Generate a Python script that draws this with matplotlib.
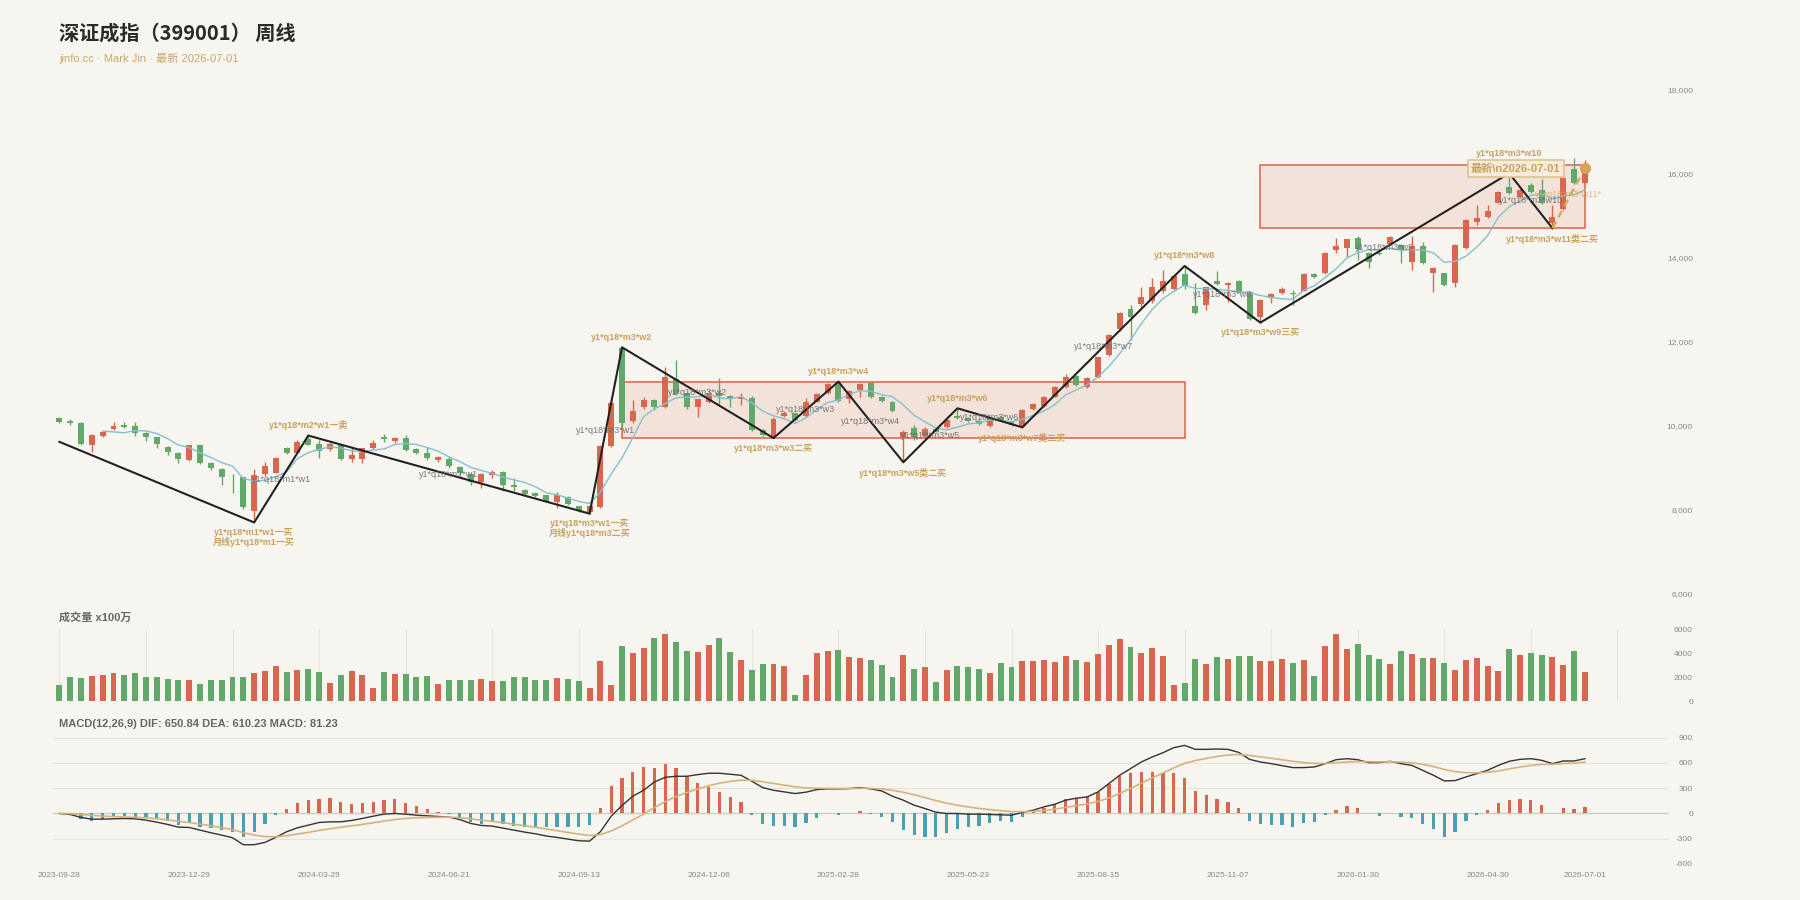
import matplotlib
matplotlib.use('Agg')
import matplotlib.pyplot as plt
from matplotlib.patches import Rectangle
import numpy as np

plt.rcParams['font.family'] = ['Liberation Sans', 'Noto Sans CJK SC']

# 周线 K 线数据 (2023-09-28 ~ 2026-07-01)
opens = [10170, 10115, 10067, 9535, 9750, 9909, 10020, 9988, 9829, 9718,
         9496, 9353, 9178, 9528, 9099, 8964, 8780, 8765, 7972, 8850,
         8880, 9456, 9353, 9670, 9551, 9432, 9528, 9194, 9194, 9456,
         9734, 9639, 9710, 9448, 9353, 9178, 9194, 9004, 8845, 8662,
         8821, 8900, 8583, 8464, 8400, 8337, 8186, 8305, 8083, 7950,
         8051, 9520, 11837, 10115, 10433, 10607, 10448, 11100, 10766, 10449,
         10567, 10766, 10703, 10623, 10647, 9893, 9750, 10227, 10290, 10227,
         10568, 10782, 11020, 10639, 10845, 11020, 10687, 10567, 9735, 9933,
         9750, 9909, 9957, 10226, 10171, 10115, 9988, 10195, 10092, 9960,
         10385, 10464, 10687, 10925, 11178, 10925, 11147, 11679, 12290, 12766,
         12900, 12970, 13200, 13240, 13600, 12845, 12869, 13449, 13346, 13449,
         13187, 12592, 13028, 13163, 13147, 13210, 13607, 13623, 14179, 14218,
         14457, 14115, 14115, 14322, 14298, 13901, 14274, 13623, 13623, 13385,
         14219, 14854, 14957, 15306, 15687, 15449, 15726, 15608, 14830, 15147,
         16100, 15766]
highs = [10190, 10150, 10085, 9790, 9880, 10083, 10090, 10090, 9845, 9730,
         9520, 9370, 9545, 9540, 9120, 8980, 8845, 8780, 8956, 9140,
         9240, 9480, 9650, 9781, 9650, 9600, 9540, 9456, 9470, 9655,
         9800, 9730, 9773, 9460, 9480, 9270, 9270, 9030, 8860, 8860,
         8940, 8920, 8760, 8480, 8410, 8350, 8420, 8320, 8090, 8100,
         9540, 10600, 11861, 10607, 10680, 10640, 11400, 11560, 10790, 10640,
         10845, 11123, 10720, 10780, 10700, 9910, 10200, 10340, 10300, 10650,
         10780, 11020, 11044, 10850, 11000, 11040, 10700, 10580, 9900, 10000,
         9960, 9930, 10160, 10409, 10190, 10130, 10200, 10220, 10110, 10400,
         10540, 10700, 10930, 11230, 11200, 11150, 11640, 12180, 12700, 12870,
         13306, 13504, 13700, 13600, 13798, 13385, 13300, 13687, 13420, 13470,
         13200, 13000, 13160, 13300, 13230, 13620, 13640, 14130, 14457, 14450,
         14510, 14130, 14200, 14510, 14320, 14512, 14380, 13780, 13640, 14320,
         14910, 15250, 15250, 15590, 16004, 15700, 15780, 15880, 15250, 15900,
         16361, 16322]
lows = [10060, 10020, 9545, 9377, 9720, 9890, 9940, 9750, 9640, 9456,
        9300, 9100, 9160, 9080, 8950, 8583, 8400, 8000, 7690, 8800,
        8860, 9330, 9340, 9530, 9218, 9400, 9180, 9130, 9115, 9440,
        9615, 9575, 9400, 9320, 9180, 9130, 8980, 8830, 8580, 8504,
        8740, 8448, 8450, 8340, 8300, 8170, 8030, 8110, 7950, 7900,
        8040, 9480, 9990, 10052, 10400, 10380, 10420, 10720, 10400, 10210,
        10540, 10488, 10449, 10490, 9880, 9740, 9695, 10200, 10110, 10200,
        10550, 10760, 10570, 10540, 10680, 10650, 10570, 10330, 9123, 9650,
        9730, 9840, 9940, 10150, 10090, 10010, 9970, 10110, 9990, 9940,
        10370, 10450, 10670, 10900, 10940, 10900, 11130, 11650, 12260, 12036,
        12830, 12909, 13150, 13200, 13260, 12650, 12750, 13350, 12948, 13170,
        12510, 12449, 12909, 13140, 12869, 13190, 13500, 13600, 14100, 14020,
        13930, 13740, 14060, 14300, 13870, 13703, 13840, 13187, 13330, 13300,
        14200, 14780, 14940, 15290, 15500, 15420, 15540, 15280, 14695, 15120,
        15740, 15740]
closes = [10090, 10060, 9560, 9774, 9853, 9988, 9956, 9829, 9718, 9551,
          9377, 9194, 9528, 9099, 8980, 8781, 8765, 8051, 8821, 9040,
          9218, 9353, 9615, 9543, 9400, 9551, 9194, 9290, 9456, 9591,
          9670, 9710, 9417, 9353, 9218, 9242, 9036, 8861, 8662, 8845,
          8900, 8583, 8527, 8369, 8321, 8186, 8345, 8130, 7972, 8083,
          9512, 10528, 10052, 10353, 10607, 10433, 11163, 10742, 10433, 10623,
          10766, 10703, 10647, 10687, 9893, 9774, 10147, 10290, 10131, 10568,
          10742, 10988, 10592, 10830, 10980, 10671, 10592, 10353, 9853, 9735,
          9909, 9853, 10131, 10171, 10115, 10036, 10171, 10131, 10012, 10369,
          10512, 10687, 10909, 11163, 10964, 11123, 11623, 12155, 12687, 12592,
          13067, 13300, 13450, 13560, 13330, 12670, 13290, 13369, 13401, 13187,
          12528, 12988, 13131, 13242, 13123, 13607, 13528, 14115, 14274, 14433,
          14195, 13901, 14084, 14480, 14179, 14274, 13861, 13758, 13345, 14298,
          14893, 14933, 15115, 15568, 15528, 15608, 15568, 15306, 14957, 15885,
          15766, 16123]
ma5 = [None, None, None, None,
       9867, 9847, 9826, 9880, 9869, 9808, 9686, 9534, 9474, 9350,
       9236, 9116, 9031, 8735, 8680, 8692, 8779, 8897, 9209, 9354,
       9426, 9492, 9461, 9396, 9378, 9416, 9440, 9543, 9569, 9548,
       9474, 9388, 9253, 9142, 9004, 8929, 8861, 8770, 8703, 8645,
       8540, 8397, 8350, 8270, 8191, 8143, 8408, 8845, 9229, 9706,
       10210, 10395, 10522, 10660, 10676, 10679, 10745, 10653, 10634, 10685,
       10539, 10341, 10230, 10158, 10047, 10182, 10376, 10544, 10604, 10744,
       10826, 10812, 10733, 10685, 10490, 10241, 10088, 9941, 9896, 9960,
       10036, 10061, 10125, 10125, 10093, 10144, 10239, 10342, 10498, 10728,
       10847, 10969, 11156, 11406, 11710, 12036, 12425, 12760, 13019, 13194,
       13341, 13262, 13260, 13244, 13212, 13183, 13155, 13095, 13047, 13015,
       13002, 13218, 13326, 13523, 13729, 13991, 14109, 14184, 14177, 14219,
       14168, 14184, 14176, 14110, 13883, 13907, 14031, 14245, 14517, 14961,
       15207, 15350, 15477, 15516, 15393, 15465, 15496, 15607]

# 成交量 (x100万)
volumes = [1339, 1981, 1953, 2120, 2148, 2372, 2176, 2372, 1981, 2037,
           1869, 1730, 1730, 1423, 1786, 1786, 2037, 2037, 2344, 2511,
           2957, 2455, 2567, 2706, 2399, 1535, 2148, 2511, 2176, 1088,
           2399, 2232, 2288, 1981, 2120, 1451, 1786, 1786, 1730, 1869,
           1646, 1646, 1981, 1981, 1730, 1786, 1897, 1869, 1674, 1116,
           3320, 1311, 4604, 3990, 4408, 5217, 5608, 4883, 4185, 4046,
           4687, 5245, 4046, 3404, 2623, 3069, 3069, 2957, 530, 2176,
           3990, 4157, 4241, 3683, 3571, 3432, 3013, 2037, 3850, 2706,
           2874, 1618, 2567, 2957, 2818, 2706, 2316, 3209, 2846, 3320,
           3348, 3376, 3236, 3711, 3432, 3292, 3878, 4631, 5134, 4464,
           3990, 4408, 3711, 1311, 1535, 3460, 3069, 3627, 3488, 3711,
           3711, 3320, 3320, 3460, 3209, 3376, 2120, 4604, 5552, 4297,
           4715, 3850, 3460, 3069, 4129, 3878, 3571, 3571, 3181, 2595,
           3376, 3571, 2902, 2483, 4297, 3822, 4018, 3794, 3655, 3013,
           4129, 2399]

# MACD(12,26,9)
dif = [0, -12, -47, -67, -67, -63, -59, -63, -79, -103,
       -130, -162, -166, -197, -229, -257, -288, -371, -371, -343,
       -284, -217, -170, -138, -107, -99, -99, -83, -59, -32,
       -8, 0, -8, -20, -28, -36, -43, -71, -118, -142,
       -150, -174, -197, -221, -241, -268, -284, -304, -324, -328,
       -217, -32, 95, 205, 276, 375, 430, 442, 442, 462,
       478, 478, 466, 454, 383, 308, 276, 257, 237, 253,
       284, 292, 292, 296, 308, 292, 268, 205, 158, 99,
       59, 16, 0, 0, -8, -8, -12, -16, -20, 12,
       39, 79, 110, 158, 182, 197, 257, 355, 454, 533,
       612, 671, 722, 782, 809, 762, 762, 766, 762, 726,
       643, 612, 592, 568, 545, 545, 553, 592, 639, 651,
       639, 604, 604, 620, 592, 572, 513, 454, 387, 391,
       434, 474, 513, 572, 620, 643, 651, 632, 592, 624,
       624, 651]
dea = [0, -2, -11, -22, -31, -37, -41, -46, -52, -62,
       -76, -93, -108, -126, -146, -168, -192, -228, -257, -274,
       -276, -264, -245, -224, -201, -181, -164, -148, -130, -110,
       -90, -72, -59, -51, -46, -44, -43, -49, -63, -79,
       -93, -109, -127, -145, -164, -185, -205, -225, -245, -261,
       -252, -208, -147, -76, -6, 70, 142, 202, 250, 292,
       330, 360, 381, 396, 394, 377, 357, 337, 317, 304,
       300, 298, 297, 297, 299, 298, 292, 275, 252, 222,
       189, 154, 123, 98, 77, 60, 46, 34, 23, 21,
       25, 36, 51, 72, 94, 114, 143, 185, 239, 298,
       360, 422, 482, 542, 596, 629, 655, 677, 694, 700,
       689, 673, 657, 639, 620, 605, 595, 594, 603, 612,
       618, 615, 613, 614, 610, 602, 584, 558, 524, 497,
       485, 483, 489, 506, 529, 552, 571, 583, 585, 593,
       599, 610]
macd_hist = [0, -5, -67, -87, -71, -40, -32, -40, -47, -71,
             -91, -142, -118, -158, -170, -197, -217, -284, -217, -130,
             -12, 51, 126, 166, 170, 182, 142, 118, 126, 142,
             166, 170, 126, 87, 51, 20, -8, -47, -103, -126,
             -107, -130, -150, -166, -178, -158, -158, -158, -158, -134,
             71, 328, 422, 497, 553, 537, 592, 537, 438, 363,
             316, 260, 193, 138, -12, -126, -146, -146, -158, -111,
             -59, 0, -16, 0, 24, -8, -40, -99, -197, -257,
             -276, -276, -229, -189, -166, -150, -118, -91, -99, -40,
             16, 67, 118, 178, 189, 205, 257, 347, 442, 482,
             493, 493, 482, 482, 422, 268, 217, 178, 134, 67,
             -87, -126, -138, -138, -158, -111, -99, -20, 39, 87,
             67, 0, -24, 0, -40, -59, -130, -189, -284, -217,
             -91, -20, 47, 130, 166, 178, 166, 99, 5, 67,
             51, 81]

# x 轴日期标签
date_pos = [0, 12, 24, 36, 48, 60, 72, 84, 96, 108, 120, 132, 141]
date_labels = ['2023-09-28', '2023-12-29', '2024-03-29', '2024-06-21', '2024-09-13',
               '2024-12-06', '2025-02-28', '2025-05-23', '2025-08-15', '2025-11-07',
               '2026-01-30', '2026-04-30', '2026-07-01']

# 笔的端点
bi_idx = [0, 18, 23, 49, 52, 66, 72, 78, 83, 89, 104, 111, 134, 138]
bi_val = [9610, 7690, 9760, 7900, 11861, 9700, 11044, 9123, 10409, 9956, 13798, 12449, 16004, 14695]
# 端点上的买卖点标注 (None 表示无)
bi_point_labels = [None,
                   'y1*q18*m1*w1一买\n月线y1*q18*m1一买',
                   'y1*q18*m2*w1一卖',
                   'y1*q18*m3*w1一买\n月线y1*q18*m3二买',
                   'y1*q18*m3*w2',
                   'y1*q18*m3*w3二买',
                   'y1*q18*m3*w4',
                   'y1*q18*m3*w5类二买',
                   'y1*q18*m3*w6',
                   'y1*q18*m3*w7类二买',
                   'y1*q18*m3*w8',
                   'y1*q18*m3*w9三买',
                   'y1*q18*m3*w10',
                   'y1*q18*m3*w11类二买']
# 每一笔中间的名称 (第 k 笔: 端点 k -> k+1)
seg_labels = [None, 'y1*q18*m1*w1', 'y1*q18*m2*w1', 'y1*q18*m3*w1', 'y1*q18*m3*w2',
              'y1*q18*m3*w3', 'y1*q18*m3*w4', 'y1*q18*m3*w5', 'y1*q18*m3*w6',
              'y1*q18*m3*w7', 'y1*q18*m3*w8', 'y1*q18*m3*w9', 'y1*q18*m3*w10']

# 未完成的笔
pending_idx = [138, 141]
pending_val = [14695, 16123]

# 中枢
zs_start = [52, 111]
zs_end = [104, 141]
zs_low = [9695, 14695]
zs_high = [11044, 16200]

BG = '#f7f5f0'
RED = '#d9664f'
GREEN = '#62a86b'
TAN = '#c9a25e'
GRAY = '#888888'

n = len(closes)
x = np.arange(n)
o = np.array(opens, float)
c = np.array(closes, float)
up = c >= o
colors = [RED if u else GREEN for u in up]

fig = plt.figure(figsize=(18, 9), dpi=100, facecolor=BG)
ax = fig.add_axes([0.0297, 0.3406, 0.8977, 0.56], facecolor=BG)
axv = fig.add_axes([0.0297, 0.2211, 0.8977, 0.08], facecolor=BG)
axm = fig.add_axes([0.0297, 0.04, 0.8977, 0.1403], facecolor=BG)

xlim = (-0.55, 148.8)

# 中枢方框
for s, e, lo, hi in zip(zs_start, zs_end, zs_low, zs_high):
    ax.add_patch(Rectangle((s, lo), e - s, hi - lo, facecolor='#efd6cb', alpha=0.6,
                           edgecolor='none', zorder=1))
    ax.add_patch(Rectangle((s, lo), e - s, hi - lo, facecolor='none',
                           edgecolor='#e06a55', lw=1.2, zorder=2))

# K 线
ax.vlines(x, lows, highs, colors=colors, lw=1.0, zorder=3)
body_h = np.maximum(np.abs(c - o), 18)
ax.bar(x, body_h, bottom=np.minimum(o, c), width=0.55, color=colors, zorder=3)

# MA5
ma = np.array([np.nan if v is None else v for v in ma5], float)
ax.plot(x, ma, color='#86bfcd', lw=1.0, zorder=4)

# 笔
ax.plot(bi_idx, bi_val, color='#222222', lw=1.5, zorder=5)
ax.plot(pending_idx, pending_val, color='#d9a85a', lw=1.8, ls=(0, (3, 2)), zorder=5)
ax.plot(pending_idx[-1:], pending_val[-1:], 'o', color='#d4a35c', ms=7, zorder=6)

for k, lab in enumerate(bi_point_labels):
    if lab is None:
        continue
    is_low = bi_val[k] < bi_val[k - 1]
    dy = 4
    if lab.endswith('w10'):
        dy = 11
    ax.annotate(lab, xy=(bi_idx[k], bi_val[k]), xytext=(0, -dy if is_low else dy),
                textcoords='offset points', ha='center', va='top' if is_low else 'bottom',
                fontsize=6.5, fontweight='bold', color=TAN, linespacing=1.0, zorder=9)

for k, lab in enumerate(seg_labels):
    if lab is None:
        continue
    mx = (bi_idx[k] + bi_idx[k + 1]) / 2
    my = (bi_val[k] + bi_val[k + 1]) / 2
    ax.text(mx, my, lab, ha='center', va='center', fontsize=6.5, color='#6a6a6a',
            alpha=0.9, zorder=7)
ax.text(sum(pending_idx) / 2, sum(pending_val) / 2 + 100, 'y1*q18*m3*w11*', ha='center',
        va='center', fontsize=6.5, color='#d4a35c', alpha=0.75, zorder=7)

ax.text(134.6, 16114, '最新\\n2026-07-01', ha='center', va='center', fontsize=8,
        fontweight='bold', color=TAN, zorder=8,
        bbox=dict(boxstyle='square,pad=0.3', fc='#f5ecdc', ec='#ddc28f', lw=1.2))

ax.set_xlim(*xlim)
ax.set_ylim(6000, 18000)
ax.set_xticks([])
price_ticks = list(range(6000, 18001, 2000))
ax.set_yticks(price_ticks, [f'{t:,}' for t in price_ticks])

# 成交量
axv.bar(x, volumes, width=0.55, color=colors, zorder=3)
for g in range(0, 145, 8):
    axv.axvline(g, color='#e6e3dc', lw=0.8, zorder=1)
axv.set_xlim(*xlim)
axv.set_ylim(0, 6000)
axv.set_xticks([])
axv.set_yticks([0, 2000, 4000, 6000], ['0', '2000', '4000', '6000'])

# MACD
h = np.array(macd_hist, float)
axm.bar(x, h, width=0.3, color=[RED if v >= 0 else '#4a9fb3' for v in h], zorder=3)
axm.plot(x, dif, color='#333333', lw=1.0, zorder=4)
axm.plot(x, dea, color='#d6b27c', lw=1.2, zorder=4)
axm.set_xlim(*xlim)
axm.set_ylim(-600, 900)
axm.set_yticks([-600, -300, 0, 300, 600, 900], ['-600', '-300', '0', '300', '600', '900'])
axm.grid(axis='y', color='#e6e3dc', lw=0.8, zorder=0)
axm.axhline(0, color='#cfcac0', lw=0.9, zorder=2)
axm.set_xticks(date_pos, date_labels)
axm.tick_params(axis='x', length=0, pad=5.5, labelsize=6, labelcolor=GRAY)

for a in (ax, axv, axm):
    for sp in a.spines.values():
        sp.set_visible(False)
    a.yaxis.tick_right()
    a.tick_params(axis='y', length=0, pad=17, labelsize=6, labelcolor=GRAY)
    plt.setp(a.get_yticklabels(), ha='right')

# 标题
fig.text(59 / 1800, 1 - 33 / 900, '深证成指（399001） 周线', fontsize=14.5,
         fontweight='bold', color='#2a2a2a', va='center',
         family=['Noto Sans CJK SC', 'DejaVu Sans'])
fig.text(59 / 1800, 1 - 58 / 900, 'jinfo.cc · Mark Jin · 最新 2026-07-01', fontsize=8,
         color='#c9a76c', va='center')
fig.text(59 / 1800, 1 - 617 / 900, '成交量 x100万', fontsize=8, fontweight='bold',
         color='#666666', va='center')
fig.text(59 / 1800, 1 - 724 / 900, 'MACD(12,26,9) DIF: 650.84 DEA: 610.23 MACD: 81.23',
         fontsize=8, fontweight='bold', color='#666666', va='center')

fig.savefig('out.png', dpi=100, facecolor=BG)
